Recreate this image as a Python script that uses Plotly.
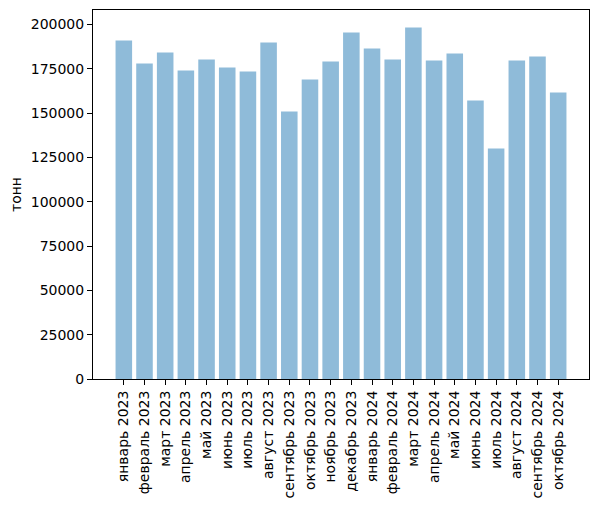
import plotly.graph_objects as go

months = ['январь 2023', 'февраль 2023', 'март 2023', 'апрель 2023', 'май 2023', 'июнь 2023',
          'июль 2023', 'август 2023', 'сентябрь 2023', 'октябрь 2023', 'ноябрь 2023', 'декабрь 2023',
          'январь 2024', 'февраль 2024', 'март 2024', 'апрель 2024', 'май 2024', 'июнь 2024',
          'июль 2024', 'август 2024', 'сентябрь 2024', 'октябрь 2024']
tonnes = [191000, 178000, 184200, 174100, 180300, 175800,
          173500, 189900, 151000, 169000, 179200, 195500,
          186500, 180300, 198300, 179700, 183700, 157200,
          130100, 179700, 182000, 161700]

positions = list(range(len(months)))

fig = go.Figure(go.Bar(x=positions, y=tonnes, width=0.8,
                       marker=dict(color='rgba(31,119,180,0.5)', line_width=0)))

axis_font = dict(family='DejaVu Sans', size=14, color='black')
fig.update_xaxes(tickmode='array', tickvals=positions, ticktext=months, tickangle=-90,
                 range=[-1.49, len(months) - 1 + 1.49], showline=True, linecolor='black',
                 linewidth=1, mirror=True, ticks='outside', ticklen=5, tickcolor='black',
                 showgrid=False, zeroline=False, tickfont=axis_font, automargin=False)
fig.update_yaxes(range=[0, max(tonnes) * 1.05], tickmode='array',
                 tickvals=list(range(0, 200001, 25000)), tickformat='d',
                 showline=True, linecolor='black', linewidth=1, mirror=True,
                 ticks='outside', ticklen=5, tickcolor='black', showgrid=False,
                 zeroline=False, tickfont=axis_font, automargin=False,
                 title=dict(text='тонн', font=axis_font, standoff=58))
# the page body adds 8px around the figure, so size and margins allow for it
fig.update_layout(width=582, height=490, margin=dict(l=85, r=1, t=2, b=119),
                  plot_bgcolor='white', paper_bgcolor='white', showlegend=False)

fig.write_html("out.html")
